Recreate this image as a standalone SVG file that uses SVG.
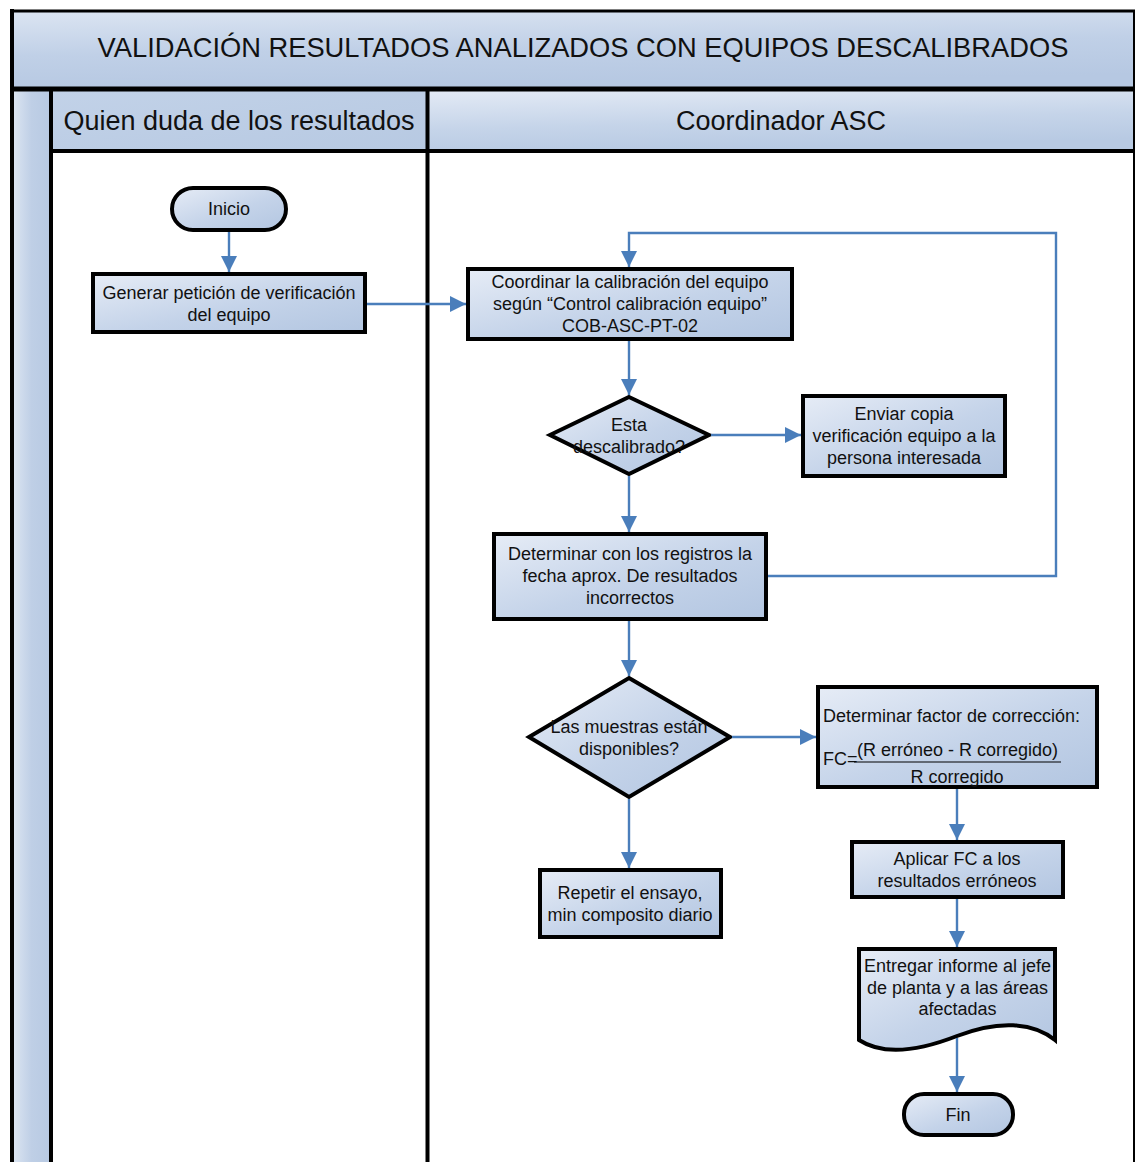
<svg xmlns="http://www.w3.org/2000/svg" width="1136" height="1162" viewBox="0 0 1136 1162">
<defs>
<linearGradient id="gNode" x1="0" y1="0" x2="1" y2="1">
<stop offset="0" stop-color="#e6ecf6"/>
<stop offset="0.55" stop-color="#c4d3e9"/>
<stop offset="1" stop-color="#b3c6e1"/>
</linearGradient>
<linearGradient id="gTitle" x1="0" y1="0" x2="0.25" y2="1">
<stop offset="0" stop-color="#dce5f2"/>
<stop offset="0.55" stop-color="#c0d0e7"/>
<stop offset="1" stop-color="#b6c8e2"/>
</linearGradient>
<linearGradient id="gLane1" x1="0" y1="0" x2="1" y2="1">
<stop offset="0" stop-color="#c2d2e8"/>
<stop offset="1" stop-color="#b7c9e2"/>
</linearGradient>
<linearGradient id="gLane2" x1="0" y1="0" x2="0.3" y2="1">
<stop offset="0" stop-color="#e3eaf5"/>
<stop offset="0.6" stop-color="#c5d4e9"/>
<stop offset="1" stop-color="#b8cae3"/>
</linearGradient>
<linearGradient id="gBand" x1="0" y1="0" x2="1" y2="0">
<stop offset="0" stop-color="#dde6f2"/>
<stop offset="0.5" stop-color="#bfcfe6"/>
<stop offset="1" stop-color="#b7c9e2"/>
</linearGradient>
<marker id="arr" viewBox="0 0 16 16" refX="16" refY="8" markerWidth="16" markerHeight="16" markerUnits="userSpaceOnUse" orient="auto">
<path d="M0,0 L16,8 L0,16 z" fill="#4a7ebb"/>
</marker>
<style>
.node{fill:url(#gNode);stroke:#000;stroke-width:4;stroke-linejoin:miter}
.t{font-family:"Liberation Sans",Arial,sans-serif;font-size:18px;fill:#111;text-anchor:middle}
.tl{font-family:"Liberation Sans",Arial,sans-serif;font-size:18px;fill:#111}
.hd{font-family:"Liberation Sans",Arial,sans-serif;font-size:27px;fill:#111;text-anchor:middle}
.con{fill:none;stroke:#4a7ebb;stroke-width:2.4;marker-end:url(#arr)}
.ln{stroke:#000;fill:none}
</style>
</defs>
<rect width="1136" height="1162" fill="#ffffff"/>

<g id="pool">
<rect x="12" y="10" width="1122" height="79" fill="url(#gTitle)"/>
<rect x="12" y="89" width="39" height="1073" fill="url(#gBand)"/>
<rect x="51" y="91" width="376" height="60" fill="url(#gLane1)"/>
<rect x="427" y="91" width="707" height="60" fill="url(#gLane2)"/>
<line class="ln" x1="10" y1="11" x2="1135" y2="11" stroke-width="3"/>
<line class="ln" x1="12" y1="9" x2="12" y2="1162" stroke-width="4"/>
<line class="ln" x1="1134" y1="10" x2="1134" y2="1162" stroke-width="2"/>
<line class="ln" x1="10" y1="89" x2="1135" y2="89" stroke-width="5"/>
<line class="ln" x1="51" y1="89" x2="51" y2="1162" stroke-width="4"/>
<line class="ln" x1="51" y1="151" x2="1135" y2="151" stroke-width="4"/>
<line class="ln" x1="427.5" y1="89" x2="427.5" y2="1162" stroke-width="4"/>
<text class="hd" x="583" y="57" style="font-size:27.3px">VALIDACIÓN RESULTADOS ANALIZADOS CON EQUIPOS DESCALIBRADOS</text>
<text class="hd" x="239" y="130">Quien duda de los resultados</text>
<text class="hd" x="781" y="130">Coordinador ASC</text>
</g>

<g id="n-inicio">
<rect class="node" x="172" y="188" width="114" height="42" rx="21"/>
<text class="t" x="229" y="214.5">Inicio</text>
</g>
<g id="n-generar">
<rect class="node" x="93" y="274" width="272" height="58"/>
<text class="t" x="229" y="298.5">Generar petición de verificación</text>
<text class="t" x="229" y="320.5">del equipo</text>
</g>
<g id="n-coordinar">
<rect class="node" x="468" y="269" width="324" height="70"/>
<text class="t" x="630" y="287.5">Coordinar la calibración del equipo</text>
<text class="t" x="630" y="309.5">según “Control calibración equipo”</text>
<text class="t" x="630" y="331.5">COB-ASC-PT-02</text>
</g>
<g id="n-esta">
<polygon class="node" points="629,397 709,435 629,474 550,435"/>
<text class="t" x="629" y="430.5">Esta</text>
<text class="t" x="629" y="452.5">descalibrado?</text>
</g>
<g id="n-enviar">
<rect class="node" x="803" y="396" width="202" height="80"/>
<text class="t" x="904" y="419.5">Enviar copia</text>
<text class="t" x="904" y="441.5">verificación equipo a la</text>
<text class="t" x="904" y="463.5">persona interesada</text>
</g>
<g id="n-determinar">
<rect class="node" x="494" y="534" width="272" height="85"/>
<text class="t" x="630" y="560">Determinar con los registros la</text>
<text class="t" x="630" y="582">fecha aprox. De resultados</text>
<text class="t" x="630" y="604">incorrectos</text>
</g>
<g id="n-muestras">
<polygon class="node" points="629,678 730,737 629,797 529,737"/>
<text class="t" x="629" y="732.5">Las muestras están</text>
<text class="t" x="629" y="754.5">disponibles?</text>
</g>
<g id="n-factor">
<rect class="node" x="818" y="687" width="279" height="100"/>
<text class="tl" x="823" y="721.5">Determinar factor de corrección:</text>
<text class="tl" x="823" y="764.5">FC=</text>
<text class="t" x="957.5" y="755.5">(R erróneo - R corregido)</text>
<line x1="854" y1="762" x2="1061" y2="762" stroke="#000" stroke-width="1.2"/>
<text class="t" x="957" y="782.5">R corregido</text>
</g>
<g id="n-repetir">
<rect class="node" x="540" y="870" width="181" height="67"/>
<text class="t" x="630" y="898.5">Repetir el ensayo,</text>
<text class="t" x="630" y="920.5">min composito diario</text>
</g>
<g id="n-aplicar">
<rect class="node" x="852" y="842" width="211" height="55"/>
<text class="t" x="957" y="864.5">Aplicar FC a los</text>
<text class="t" x="957" y="886.5">resultados erróneos</text>
</g>
<g id="n-entregar">
<path class="node" d="M859,949 H1055 V1040 C1033,1022 998,1020 957,1036 C916,1052 882,1055 859,1040 Z"/>
<text class="t" x="957.5" y="971.5">Entregar informe al jefe</text>
<text class="t" x="957.5" y="993.5">de planta y a las áreas</text>
<text class="t" x="957.5" y="1014.5">afectadas</text>
</g>
<g id="n-fin">
<rect class="node" x="904" y="1094" width="109" height="41" rx="20"/>
<text class="t" x="958" y="1120.5">Fin</text>
</g>

<g id="connectors">
<path class="con" d="M229,232 V272"/>
<path class="con" d="M367,304 H466"/>
<path class="con" d="M629,341 V395"/>
<path class="con" d="M711,435 H801"/>
<path class="con" d="M629,476 V532"/>
<path class="con" d="M768,576 H1056 V233 H629 V267"/>
<path class="con" d="M629,621 V676"/>
<path class="con" d="M732,737 H816"/>
<path class="con" d="M629,799 V868"/>
<path class="con" d="M957,789 V840"/>
<path class="con" d="M957,899 V947"/>
<path class="con" d="M957,1038 V1092"/>
</g>
</svg>
